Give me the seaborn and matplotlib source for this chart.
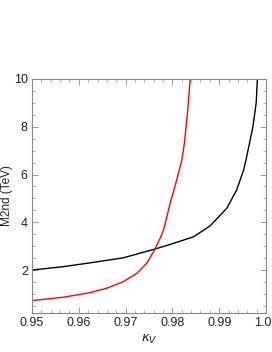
import matplotlib
matplotlib.use("Agg")
import matplotlib.pyplot as plt
import seaborn as sns
import pandas as pd
from matplotlib.ticker import MultipleLocator

# values
kappa_black = [0.95, 0.9567, 0.9624, 0.9695, 0.9763, 0.9795, 0.9845, 0.9880,
               0.9916, 0.9937, 0.9952, 0.9957, 0.9972, 0.9979, 0.99815, 0.9985]
m2nd_black = [2.0, 2.14, 2.30, 2.51, 2.88, 3.07, 3.39, 3.84,
              4.58, 5.34, 6.18, 6.59, 8.0, 9.0, 10.0, 11.0]

kappa_red = [0.95, 0.9567, 0.9624, 0.9660, 0.9695, 0.9724, 0.9745, 0.9763,
             0.9775, 0.9781, 0.9795, 0.9809, 0.9820, 0.9826, 0.9833, 0.9838, 0.9842]
m2nd_red = [0.72, 0.86, 1.05, 1.24, 1.51, 1.86, 2.28, 2.88,
            3.39, 3.67, 4.78, 5.76, 6.59, 7.36, 8.75, 10.0, 11.0]

x_ticks = [0.95, 0.96, 0.97, 0.98, 0.99, 1.0]
x_tick_labels = ["0.95", "0.96", "0.97", "0.98", "0.99", "1.00"]

sns.set_style("ticks")
plt.rcParams['font.family'] = ['Liberation Sans', 'DejaVu Sans']

df_black = pd.DataFrame({"kappa": kappa_black, "m2nd": m2nd_black})
df_red = pd.DataFrame({"kappa": kappa_red, "m2nd": m2nd_red})

fig = plt.figure(figsize=(2.72, 3.52), dpi=100)
ax = fig.add_axes([0.1176, 0.1108, 0.8604, 0.6648])

sns.lineplot(data=df_black, x="kappa", y="m2nd", color="black", lw=1.0, ax=ax)
sns.lineplot(data=df_red, x="kappa", y="m2nd", color="red", lw=1.0, ax=ax)

ax.set_xlim(0.95, 1.0)
ax.set_ylim(0.2, 10)
ax.xaxis.set_minor_locator(MultipleLocator(0.002))
ax.yaxis.set_major_locator(MultipleLocator(2))
ax.yaxis.set_minor_locator(MultipleLocator(0.5))
ax.set_xticks(x_ticks)
ax.set_xticklabels(x_tick_labels)

gray = "#888888"
for s in ax.spines.values():
    s.set_color(gray)
    s.set_linewidth(0.8)
ax.tick_params(which="both", direction="in", top=True, right=True,
               colors=gray, labelcolor="#222222", labelsize=9, pad=3)
ax.tick_params(which="major", length=4, width=0.6)
ax.tick_params(which="minor", length=2, width=0.5)

ax.set_xlabel(r"$\kappa_V$", fontsize=9.5, color="#222222", labelpad=3)
ax.set_ylabel("M2nd (TeV)", fontsize=8.5, color="#222222", labelpad=0.5)

fig.savefig("out.png", dpi=100)
